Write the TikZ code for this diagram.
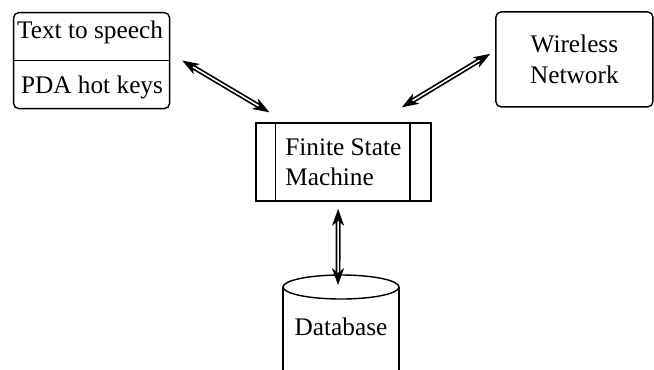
\documentclass[tikz,border=0pt]{standalone}
\usepackage{fontspec}
\setmainfont{Liberation Serif}
\usetikzlibrary{arrows.meta, shapes.geometric, shapes.misc}

\begin{document}
\begin{tikzpicture}[
    font=\fontsize{18}{21.5}\selectfont,
    box/.style={rectangle, rounded corners=0.13cm, draw, line width=1pt, minimum width=3.9cm, minimum height=2.4cm, inner sep=0pt},
    fsmbox/.style={rectangle, draw, line width=1pt, minimum width=4.375cm, minimum height=1.95cm},
    label/.style={inner sep=0pt, align=center},
    linkline/.style={line width=1.2pt, double=white, double distance=1.1pt, shorten <=0.25cm, shorten >=0.25cm},
    linktips/.style={tips, {Stealth[length=0.42cm,width=0.3cm,inset=0.12cm,fill=black]}-{Stealth[length=0.42cm,width=0.3cm,inset=0.12cm,fill=black]}, line width=0.8pt, black}
]

\clip (0,0) rectangle (16.35,9.225);

% PDA side
\node[box] (pda) at (2.29,7.71) {};
\draw[line width=1pt] (pda.west) -- (pda.east);
\node[label] (speech) at (2.25,8.41) {Text to speech};
\node[label] (hotkeys) at (2.3,7.03) {PDA hot keys};

% network
\node[box, minimum width=3.925cm, minimum height=2.375cm] (wnet) at (14.36,7.74) {};
\node[label] (wnettext) at (wnet.center) {Wireless\\Network};

% state machine
\node[fsmbox] (fsm) at (8.59,5.175) {};
\draw[line width=1pt] ([xshift=0.5cm]fsm.north west) -- ([xshift=0.5cm]fsm.south west);
\draw[line width=1pt] ([xshift=-0.55cm]fsm.north east) -- ([xshift=-0.55cm]fsm.south east);
\node[label, anchor=west, align=left] (fsmtext) at (7.125,5.175) {Finite State\\Machine};

% database
\coordinate (dbtop) at (8.525,2.05);
\draw[line width=1pt] (dbtop) ellipse (1.45cm and 0.3cm);
\draw[line width=1pt] ([xshift=-1.45cm]dbtop) -- ++(0,-2.5);
\draw[line width=1pt] ([xshift=1.45cm]dbtop) -- ++(0,-2.5);
\node[label] (db) at (8.525,1.05) {Database};

% links (double line, then solid tips on top)
\draw[linkline] ([xshift=0.3cm]pda.east) -- ([xshift=0.35cm,yshift=0.25cm]fsm.north west);
\path[linktips] ([xshift=0.3cm]pda.east) -- ([xshift=0.35cm,yshift=0.25cm]fsm.north west);
\draw[linkline] ([xshift=-0.75cm,yshift=0.375cm]fsm.north east) -- ([xshift=-0.125cm,yshift=0.14cm]wnet.west);
\path[linktips] ([xshift=-0.75cm,yshift=0.375cm]fsm.north east) -- ([xshift=-0.125cm,yshift=0.14cm]wnet.west);
\draw[linkline] ([xshift=-0.1375cm,yshift=-0.18cm]fsm.south) -- ([xshift=-0.075cm,yshift=0.05cm]dbtop);
\path[linktips] ([xshift=-0.1375cm,yshift=-0.18cm]fsm.south) -- ([xshift=-0.075cm,yshift=0.05cm]dbtop);

\end{tikzpicture}
\end{document}
